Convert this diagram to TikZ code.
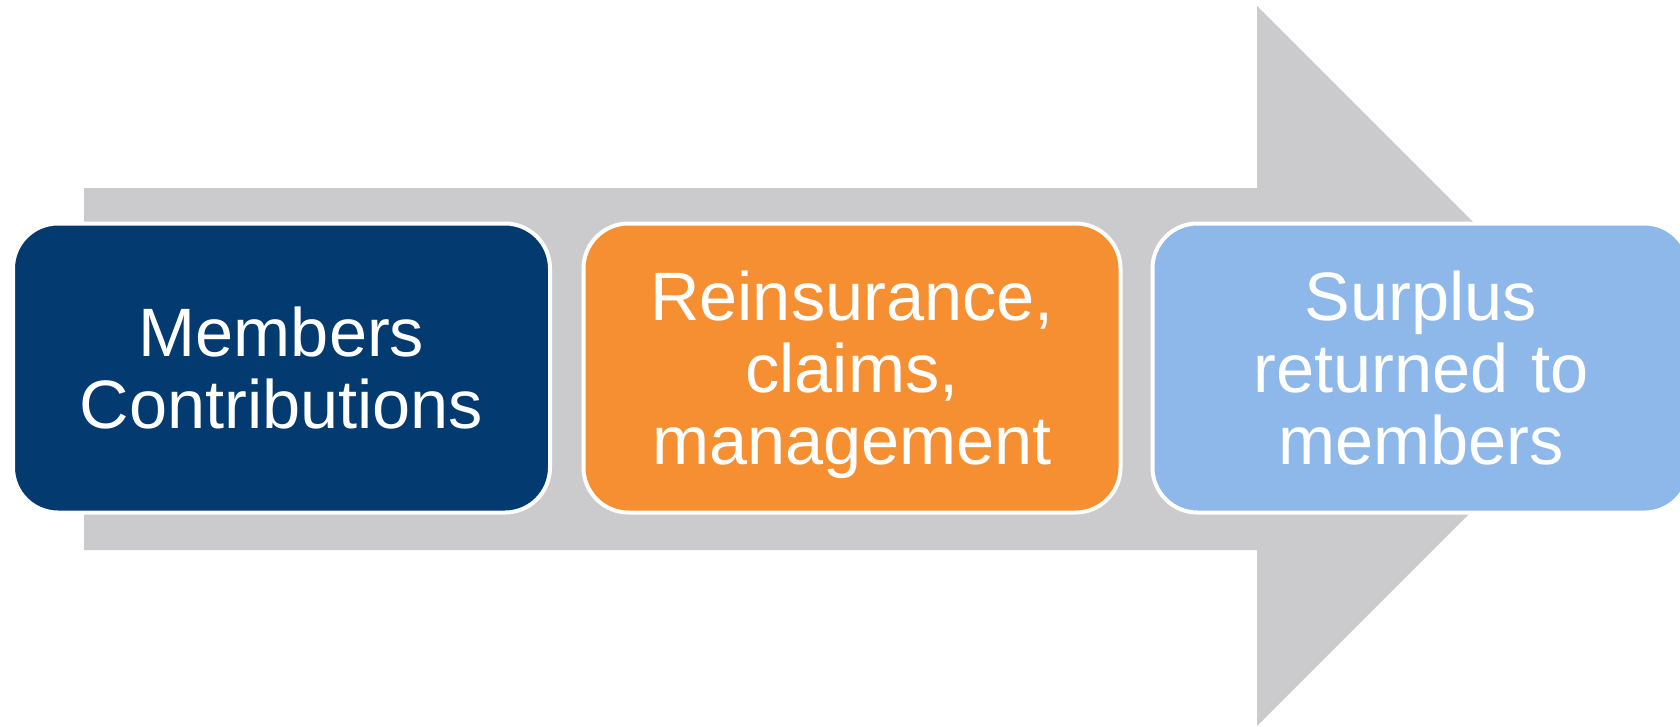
\documentclass[tikz,border=0pt]{standalone}
\usepackage{fontspec}
\setmainfont{Liberation Sans}
\definecolor{arrowgray}{HTML}{CBCBCD}
\definecolor{navy}{HTML}{033A70}
\definecolor{orangefill}{HTML}{F68F31}
\definecolor{skyfill}{HTML}{8DB8E9}
\begin{document}
\begin{tikzpicture}[x=1pt,y=-1pt,
  stagebox/.style={rectangle, rounded corners=45pt, draw=white, line width=4pt,
    minimum width=537pt, minimum height=289pt, text=white, text width=520pt,
    align=center, inner sep=0pt,
    font=\fontsize{68.5}{72}\selectfont}]
  \clip (0,0) rectangle (1680,726);
  \useasboundingbox (0,0) rectangle (1680,726);
  % block arrow behind the stages
  \fill[arrowgray] (84,188) -- (1257,188) -- (1257,6) -- (1617,366)
    -- (1257,726) -- (1257,550) -- (84,550) -- cycle;
  % the three stages (descender smashed so all texts sit on the same baselines)
  \node[stagebox, fill=navy] (contrib) at (281.5,368) {Members\\Contributions};
  \node[stagebox, fill=orangefill] (costs) at (852,368) {Reinsurance,\\claims,\\mana\smash{g}ement};
  \node[stagebox, fill=skyfill] (surplus) at (1421,368) {Surplus\\returned to\\members};
\end{tikzpicture}
\end{document}
